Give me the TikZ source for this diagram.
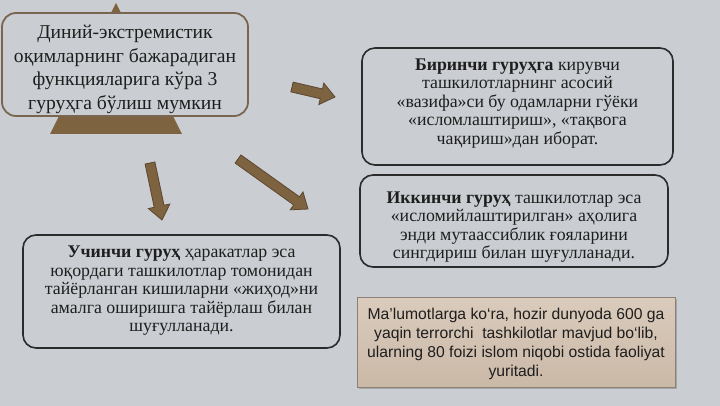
\documentclass[tikz,border=0pt]{standalone}
\usepackage{fontspec}
\setmainfont{Liberation Serif}
\newfontfamily\boxsans{Liberation Sans}
\usetikzlibrary{calc,shadows}
\definecolor{bgc}{HTML}{CACED2}
\definecolor{brownf}{HTML}{7E6341}
\definecolor{browno}{HTML}{5C4630}
\definecolor{boxline}{HTML}{2B2B2B}
\definecolor{titleline}{HTML}{7A6650}
\definecolor{txt}{HTML}{1E1E1E}
\definecolor{beigeA}{HTML}{DACBBC}
\definecolor{beigeB}{HTML}{CBB9A7}
\definecolor{beigeline}{HTML}{8C8075}
\tikzset{
  infobox/.style={draw=boxline, line width=1.6pt, rounded corners=13pt, fill=bgc,
    align=center, inner sep=0pt},
  titlebox/.style={draw=titleline, line width=1.8pt, rounded corners=14pt, fill=bgc,
    align=center, inner sep=0pt},
  notebox/.style={draw=beigeline, line width=1pt, top color=beigeA, bottom color=beigeB,
    align=center, inner sep=0pt,
    drop shadow={shadow xshift=1.5pt, shadow yshift=-1.5pt, fill=black!45, opacity=0.6}},
  boxtext/.style={align=center, inner sep=0pt, text=txt, font=\fontsize{17.8}{18.5}\selectfont},
  titletext/.style={align=center, inner sep=0pt, text=txt, font=\fontsize{19.6}{23.4}\selectfont},
  notetext/.style={align=center, inner sep=0pt, text=txt, font=\boxsans\fontsize{15.7}{19}\selectfont},
  blockarr/.style={fill=brownf, draw=browno, line width=0.8pt, line join=miter}
}
\newcommand\blockarrow[2]{%
  \coordinate (ba-h) at ($(#2)!14pt!(#1)$);
  \draw[blockarr] ($(#1)!5pt!90:(#2)$) -- ($(ba-h)!5pt!-90:(#1)$) -- ($(ba-h)!11pt!-90:(#1)$)
    -- (#2) -- ($(ba-h)!11pt!90:(#1)$) -- ($(ba-h)!5pt!90:(#1)$) -- ($(#1)!5pt!-90:(#2)$) -- cycle;
}
\begin{document}
\begin{tikzpicture}[x=1pt,y=-1pt]
  \fill[bgc] (0,0) rectangle (720,406);
  \useasboundingbox (0,0) rectangle (720,406);

  % triangle behind title
  \fill[brownf] (116,3) -- (182,134) -- (50,134) -- cycle;

  % title box
  \node[titlebox, minimum width=246pt, minimum height=103pt] (title) at (125,64.5) {};
  \node[titletext] (titletxt) at (125,69.5)
    {Диний-экстремистик\\оқимларнинг бажарадиган\\функцияларига кўра 3\\гуруҳга бўлиш мумкин};

  % group boxes
  \node[infobox, minimum width=311pt, minimum height=117pt] (g1) at (517.5,106.5) {};
  \node[boxtext] (g1text) at (517.5,103.5)
    {\textbf{Биринчи гуруҳга} кирувчи\\ташкилотларнинг асосий\\«вазифа»си бу одамларни гўёки\\«исломлаштириш», «тақвога\\чақириш»дан иборат.};

  \node[infobox, minimum width=308pt, minimum height=92pt] (g2) at (514,221) {};
  \node[boxtext] (g2text) at (514,227)
    {\textbf{Иккинчи гуруҳ} ташкилотлар эса\\«исломийлаштирилган» аҳолига\\энди мутаассиблик ғояларини\\сингдириш билан шуғулланади.};

  \node[infobox, minimum width=317pt, minimum height=113pt] (g3) at (181.5,291.5) {};
  \node[boxtext] (g3text) at (181.5,291)
    {\textbf{Учинчи гуруҳ} ҳаракатлар эса\\юқордаги ташкилотлар томонидан\\тайёрланган кишиларни «жиҳод»ни\\амалга оширишга тайёрлаш билан\\шуғулланади.};

  % note box
  \node[notebox, minimum width=318pt, minimum height=90pt] (note) at (516,342) {};
  \node[notetext] (notetxt) at (516,344)
    {Ma’lumotlarga ko‘ra, hozir dunyoda 600 ga\\yaqin terrorchi\ \ tashkilotlar mavjud bo‘lib,\\ularning 80 foizi islom niqobi ostida faoliyat\\yuritadi.};

  % arrows
  \coordinate (a1s) at (292,87);  \coordinate (a1e) at (335,97);
  \coordinate (a2s) at (238,159); \coordinate (a2e) at (308,209);
  \coordinate (a3s) at (150,163); \coordinate (a3e) at (162,220);
  \blockarrow{a1s}{a1e}
  \blockarrow{a2s}{a2e}
  \blockarrow{a3s}{a3e}
\end{tikzpicture}
\end{document}
